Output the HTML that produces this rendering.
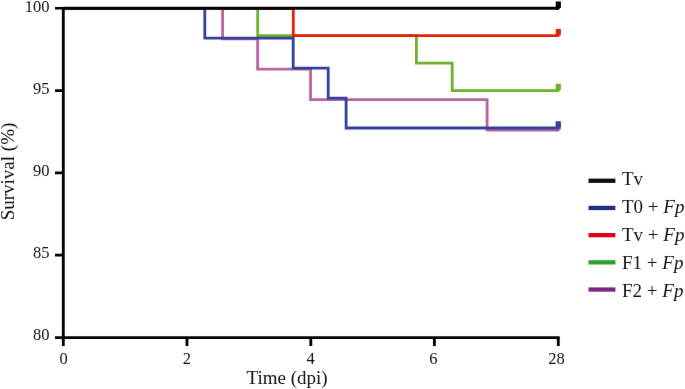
<!DOCTYPE html>
<html><head><meta charset="utf-8">
<style>
html,body{margin:0;padding:0;background:#fff;width:685px;height:389px;overflow:hidden}
svg{display:block;will-change:transform}
text{font-family:"Liberation Serif",serif;fill:#111}
</style></head>
<body>
<svg width="685" height="389" viewBox="0 0 685 389">
<defs><filter id="b" color-interpolation-filters="sRGB" x="0" y="0" width="685" height="389" filterUnits="userSpaceOnUse"><feConvolveMatrix order="3" kernelMatrix="0.00163 0.03713 0.00163 0.03713 0.84497 0.03713 0.00163 0.03713 0.00163" edgeMode="duplicate" preserveAlpha="true"/></filter></defs>
<g filter="url(#b)"><rect width="685" height="389" fill="#fff"/>
<g fill="none" stroke-linejoin="miter" stroke-linecap="butt">
<path d="M63.3 8.6H257.7V35.7H416.4V63.1H452.2V90.55H558.6" stroke="#6cb22a" stroke-width="2.8"/>
<path d="M63.3 8.6H293.3V35.7H558.6" stroke="#e2220a" stroke-width="2.8"/>
<path d="M63.3 8.7H222.6V38.75H257.65V69.2H310.55V99.7H487.1V130.1H558.6" stroke="#b863a4" stroke-width="2.8"/>
<path d="M63.3 8.6H204.8V38.15H293.2V68.1H328.2V98.05H346.1V128.0H558.6" stroke="#32419a" stroke-width="2.8"/>
<path d="M63.3 8.25H558.6" stroke="#000" stroke-width="2.9"/>
</g>
<path d="M555.7 1.40H560.9V7.35L558.6 9.65H555.7Z" fill="#000"/>
<path d="M555.7 29.00H560.9V34.80L558.6 37.10H555.7Z" fill="#e2220a"/>
<path d="M555.7 83.85H560.9V89.65L558.6 91.95H555.7Z" fill="#6cb22a"/>
<path d="M555.7 123.40H560.9V129.20L558.6 131.50H555.7Z" fill="#b863a4"/>
<path d="M555.7 121.30H560.9V127.10L558.6 129.40H555.7Z" fill="#32419a"/>
<g stroke="#000" fill="none">
<path d="M63.3 7.0V345.9" stroke-width="2.85"/>
<path d="M55 337.65H559.7" stroke-width="2.75"/>
<path d="M55 8.25H63.3M55 90.6H63.3M55 172.85H63.3M55 255.2H63.3" stroke-width="2.7"/>
<path d="M187.0 337.65V345.9M310.8 337.65V345.9M434.4 337.65V345.9M558.3 337.65V345.9" stroke-width="2.85"/>
</g>
<g font-size="16.5" text-anchor="end">
<text x="49.6" y="12">100</text>
<text x="49.4" y="93.9">95</text>
<text x="49.6" y="175.8">90</text>
<text x="49.6" y="258">85</text>
<text x="49.6" y="339.6">80</text>
</g>
<g font-size="16.5" text-anchor="middle">
<text x="63.6" y="363.7">0</text>
<text x="186.9" y="363.7">2</text>
<text x="310.6" y="363.7">4</text>
<text x="433.4" y="363.7">6</text>
<text x="556.6" y="363.7">28</text>
</g>
<text x="287.1" y="384" font-size="19" text-anchor="middle">Time (dpi)</text>
<text transform="translate(13.8 171.5) rotate(-90)" font-size="19" text-anchor="middle">Survival (%)</text>
<g stroke-width="4.3">
<path d="M588.5 180.75H615.4" stroke="#0d0d0d"/>
<path d="M588.5 207.95H615.4" stroke="#222e86"/>
<path d="M588.5 235.15H615.4" stroke="#e0000f"/>
<path d="M588.5 262.35H615.4" stroke="#2ca02c"/>
<path d="M588.5 289.55H615.4" stroke="#7a2884"/>
</g>
<g font-size="19">
<text x="622" y="184.5">Tv</text>
<text x="622" y="212.5">T0 + <tspan font-style="italic">Fp</tspan></text>
<text x="622" y="240.5">Tv + <tspan font-style="italic">Fp</tspan></text>
<text x="622" y="268.5">F1 + <tspan font-style="italic">Fp</tspan></text>
<text x="622" y="296.5">F2 + <tspan font-style="italic">Fp</tspan></text>
</g>
</g></svg>
</body></html>
